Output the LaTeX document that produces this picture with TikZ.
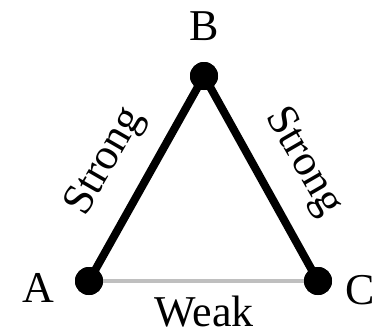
\documentclass[tikz,border=0pt]{standalone}
\usepackage{fontspec}
\setmainfont{Liberation Serif}
\begin{document}
\begin{tikzpicture}[x=1pt,y=-1pt,
  lbl/.style={font=\fontsize{44}{48}\selectfont,inner sep=0pt},
  dot/.style={circle,fill=black,minimum size=28pt,inner sep=0pt},
  strongedge/.style={line width=8pt,black},
  weakedge/.style={line width=3.5pt,black!25}]
\useasboundingbox (0,0) rectangle (375,335);
\node[dot] (A) at (89,281) {};
\node[dot] (B) at (204,76) {};
\node[dot] (C) at (318,281) {};
\draw[weakedge] (A.center) -- (C.center);
\draw[strongedge] (A.center) -- (B.center);
\draw[strongedge] (B.center) -- (C.center);
\node[dot] at (A) {};
\node[dot] at (B) {};
\node[dot] at (C) {};
\node[lbl] (lB) at (204,26) {B};
\node[lbl] (lA) at (38,288) {A};
\node[lbl] (lC) at (360,290) {C};
\node[lbl] (lW) at (204,312) {Weak};
\node[lbl,rotate=60] (s1) at (106,162) {Strong};
\node[lbl,rotate=-60] (s2) at (303,162) {Strong};
\end{tikzpicture}
\end{document}
